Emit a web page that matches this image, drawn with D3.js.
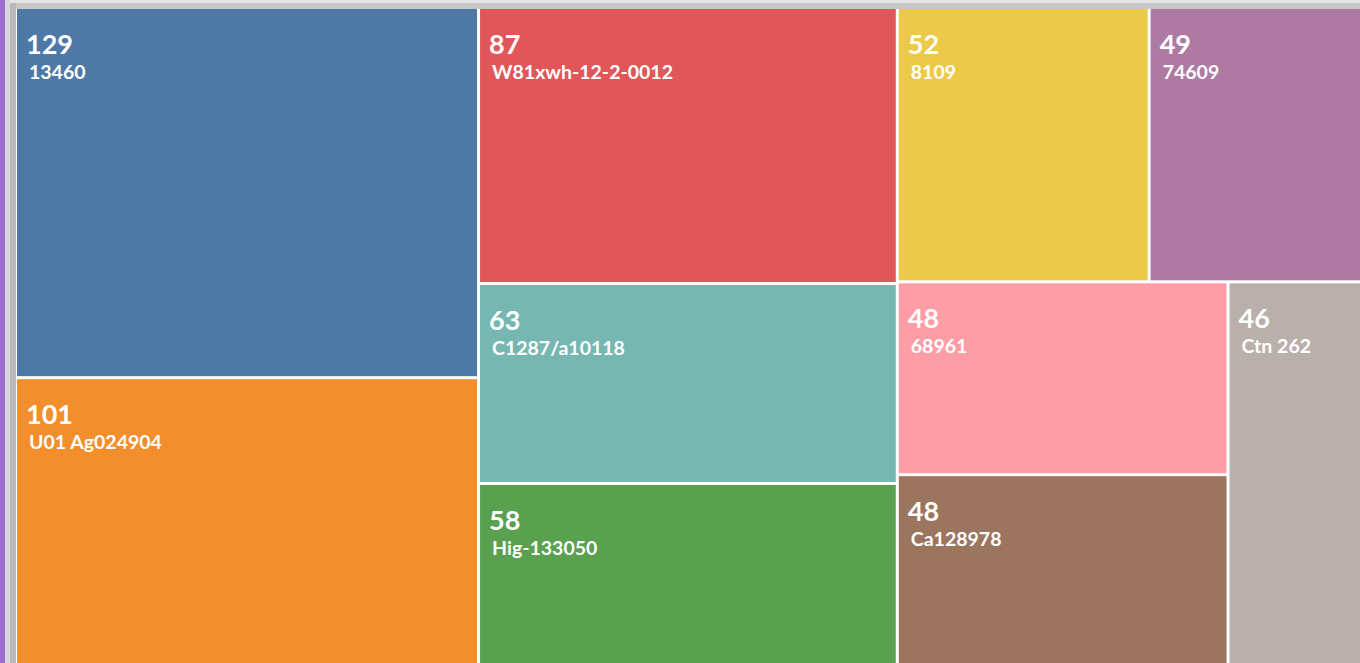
<!DOCTYPE html>
<html>
<head>
<meta charset="utf-8">
<script src="https://cdn.jsdelivr.net/npm/d3@7"></script>
<style>
  html, body { margin: 0; padding: 0; background: #fff; overflow: hidden; }
  .val { font-family: Lato, "Noto Sans", sans-serif; font-weight: 700; font-size: 27px; fill: #fff; }
  .lbl { font-family: Lato, "Noto Sans", sans-serif; font-weight: 700; font-size: 19.5px; fill: #fff; }
</style>
</head>
<body>
<svg id="chart" width="1360" height="663"></svg>
<script>
(function() {

  var labels = ['13460', 'U01 Ag024904', 'W81xwh-12-2-0012', 'C1287/a10118', 'Hig-133050',
                '8109', '74609', '68961', 'Ca128978', 'Ctn 262'];
  var values = [129, 101, 87, 63, 58, 52, 49, 48, 48, 46];

  var offsetX = 17,
      offsetY = 9,
      width = 1368,
      height = 657;

  var color = d3.scaleOrdinal()
      .domain(labels)
      .range(d3.schemeTableau10);

  var svg = d3.select('#chart');

  // window chrome around the cropped chart
  svg.append('rect').attr('x', 0).attr('y', 0).attr('width', 1360).attr('height', 3).attr('fill', '#e4e4e4');
  svg.append('rect').attr('x', 0).attr('y', 3).attr('width', 1360).attr('height', 6).attr('fill', '#c8c8c8');
  svg.append('rect').attr('x', 5).attr('y', 0).attr('width', 5).attr('height', 663).attr('fill', '#d8d8d8');
  svg.append('rect').attr('x', 10).attr('y', 3).attr('width', 6).attr('height', 660).attr('fill', '#b9b9b9');
  svg.append('rect').attr('x', 0).attr('y', 0).attr('width', 5).attr('height', 663).attr('fill', '#9b6dcf');
  svg.append('rect').attr('x', 16).attr('y', 9).attr('width', 1344).attr('height', 654).attr('fill', '#fff');

  var root = d3.hierarchy({ children: labels.map(function(d, i) { return { name: d, value: values[i] }; }) })
      .sum(function(d) { return d.value; })
      .sort(function(a, b) { return b.value - a.value; });

  d3.treemap()
      .tile(d3.treemapSquarify)
      .size([width, height])
      .paddingInner(3)
      (root);

  var g = svg.append('g')
      .attr('transform', 'translate(' + offsetX + ',' + offsetY + ')');

  var cell = g.selectAll('.cell')
      .data(root.leaves())
    .enter().append('g')
      .attr('class', 'cell')
      .attr('transform', function(d) { return 'translate(' + d.x0 + ',' + d.y0 + ')'; });

  cell.append('rect')
      .attr('width', function(d) { return d.x1 - d.x0; })
      .attr('height', function(d) { return d.y1 - d.y0; })
      .attr('fill', function(d) { return color(d.data.name); });

  cell.append('text')
      .attr('class', 'val')
      .attr('x', 9)
      .attr('y', 45)
      .text(function(d) { return d.data.value; });

  cell.append('text')
      .attr('class', 'lbl')
      .attr('x', 12)
      .attr('y', 70)
      .text(function(d) { return d.data.name; });

})()
</script>
</body>
</html>
